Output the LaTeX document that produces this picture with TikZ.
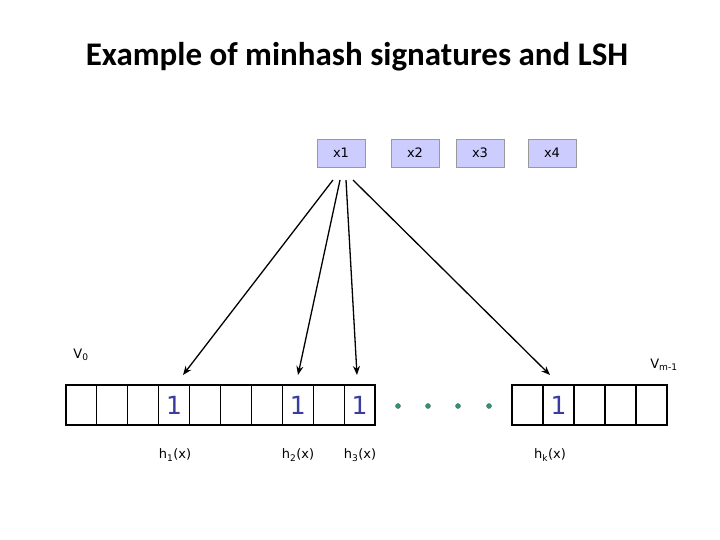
\documentclass[tikz,border=0pt]{standalone}
\usetikzlibrary{arrows.meta}
\usepackage{fontspec}
\setmainfont{Carlito}
\newfontfamily\vsans{DejaVu Sans}
\begin{document}
\begin{tikzpicture}[x=1pt,y=-1pt,
  xbox/.style={draw=gray!80,fill={rgb,255:red,204;green,204;blue,255},minimum width=48pt,minimum height=28pt,inner sep=0pt,font=\vsans\fontsize{13}{15}\selectfont},
  cell/.style={draw=black,line width=1pt,minimum width=30.9pt,minimum height=40pt,inner sep=0pt},
  one/.style={text={rgb,255:red,60;green,60;blue,160},font=\vsans\fontsize{25}{27}\selectfont},
  lab/.style={font=\vsans\fontsize{13}{15}\selectfont},
  arr/.style={-{Stealth[length=9pt,width=7pt]},line width=1.3pt},
  dot/.style={circle,fill={rgb,255:red,40;green,150;blue,120},draw=black!60,inner sep=0pt,minimum size=5pt}]
\useasboundingbox (0,0) rectangle (720,540);
\node[font=\bfseries\fontsize{33}{38}\selectfont] (title) at (357,57) {Example of minhash signatures and LSH};
\node[xbox] (x1) at (341,153) {x1};
\node[xbox] (x2) at (415,153) {x2};
\node[xbox] (x3) at (480,153) {x3};
\node[xbox] (x4) at (552,153) {x4};
\foreach \i in {1,...,10}{
  \node[cell] (L\i) at ({66+30.9*(\i-0.5)},405) {};
}
\foreach \i in {1,...,5}{
  \node[cell] (R\i) at ({512+31*(\i-0.5)},405) {};
}
\draw[line width=2pt] (66,385) rectangle (375,425);
\draw[line width=2pt] (512,385) rectangle (667,425);
\node[one] (o1) at (L4) {1};
\node[one] (o2) at (L8) {1};
\node[one] (o3) at (L10) {1};
\node[one] (o4) at (R2) {1};
\foreach \x/\n in {398/d1,428/d2,458/d3,489/d4}{\node[dot] (\n) at (\x,406) {};}
\coordinate (a1) at (333,180);
\coordinate (a2) at (340,180);
\coordinate (a3) at (346,180);
\coordinate (a4) at (353,180);
\coordinate (b1) at (183,375);
\coordinate (b2) at (298,375);
\coordinate (b3) at (357,375);
\coordinate (b4) at (550,375);
\draw[arr] (a1) -- (b1);
\draw[arr] (a2) -- (b2);
\draw[arr] (a3) -- (b3);
\draw[arr] (a4) -- (b4);
\node[lab] (v0) at (81,355) {V\textsubscript{0}};
\node[lab] (vm) at (664,365) {V\textsubscript{m-1}};
\node[lab] (h1) at (175,455) {h\textsubscript{1}(x)};
\node[lab] (h2) at (298,455) {h\textsubscript{2}(x)};
\node[lab] (h3) at (360,455) {h\textsubscript{3}(x)};
\node[lab] (hk) at (550,455) {h\textsubscript{k}(x)};
\end{tikzpicture}
\end{document}
